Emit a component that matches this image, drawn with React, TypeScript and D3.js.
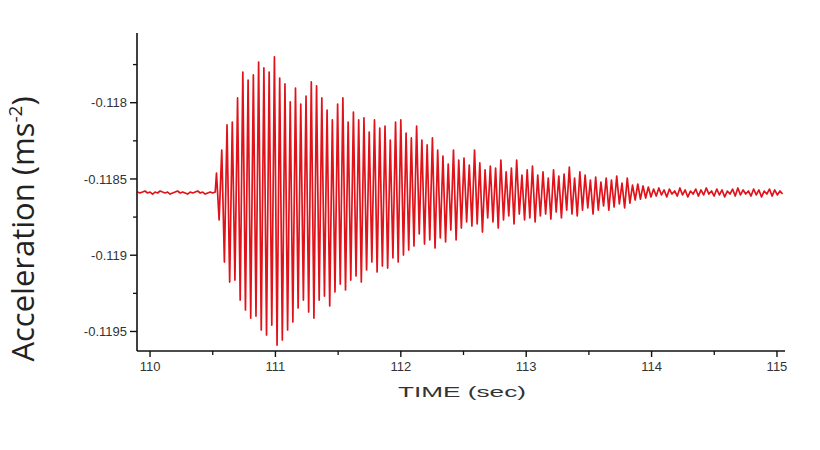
import * as d3 from "d3";

const width = 820;
const height = 450;
const plot = { left: 137, right: 785, top: 33, bottom: 351 };

// axis extents
const timeDomain: [number, number] = [109.896, 115.064];
const accelDomain: [number, number] = [-0.119628, -0.117543];

const xMajorTicks = [110, 111, 112, 113, 114, 115];
const xMinorTicks = [110.5, 111.5, 112.5, 113.5, 114.5];
const yMajorTicks = [-0.118, -0.1185, -0.119, -0.1195];
const yTickLabels = ["-0.118", "-0.1185", "-0.119", "-0.1195"];
const yMinorTicks = [-0.11775, -0.11825, -0.11875, -0.11925];

// quiet record before the event
const quietBefore: [number, number][] = [
  [109.9, -0.118586], [109.92, -0.118592], [109.94, -0.118586], [109.96, -0.118579],
  [109.98, -0.118592], [110.0, -0.118586], [110.02, -0.118599], [110.04, -0.118586],
  [110.06, -0.118592], [110.08, -0.118579], [110.1, -0.118586], [110.12, -0.118592],
  [110.14, -0.118586], [110.16, -0.118599], [110.18, -0.118592], [110.2, -0.118586],
  [110.22, -0.118579], [110.24, -0.118592], [110.26, -0.118586], [110.28, -0.118592],
  [110.3, -0.118599], [110.32, -0.118586], [110.34, -0.118592], [110.36, -0.118586],
  [110.38, -0.118579], [110.4, -0.118592], [110.42, -0.118586], [110.44, -0.118599],
  [110.46, -0.118592], [110.48, -0.118586], [110.5, -0.118592], [110.52, -0.118586],
];

// burst: alternating peak / trough
const burst: [number, number][] = [
  [110.53, -0.118461], [110.551, -0.118769], [110.572, -0.11831], [110.593, -0.119045],
  [110.614, -0.118146], [110.635, -0.119176], [110.656, -0.118127], [110.677, -0.119163],
  [110.698, -0.117969], [110.719, -0.119294], [110.74, -0.117799], [110.761, -0.119359],
  [110.782, -0.117851], [110.803, -0.119412], [110.824, -0.117818], [110.845, -0.119399],
  [110.866, -0.117733], [110.887, -0.11949], [110.908, -0.117772], [110.929, -0.119523],
  [110.95, -0.117799], [110.971, -0.119458], [110.992, -0.1177], [111.013, -0.119589],
  [111.034, -0.117838], [111.055, -0.119556], [111.076, -0.117877], [111.097, -0.11949],
  [111.118, -0.117995], [111.139, -0.119438], [111.16, -0.117904], [111.181, -0.119346],
  [111.202, -0.118009], [111.223, -0.119294], [111.244, -0.117956], [111.265, -0.119372],
  [111.286, -0.117864], [111.307, -0.119412], [111.328, -0.11789], [111.349, -0.119294],
  [111.37, -0.117969], [111.391, -0.119268], [111.412, -0.118048], [111.433, -0.119333],
  [111.454, -0.118113], [111.475, -0.119241], [111.496, -0.118009], [111.517, -0.119189],
  [111.538, -0.117969], [111.559, -0.119228], [111.58, -0.118127], [111.601, -0.119163],
  [111.622, -0.118061], [111.643, -0.119136], [111.664, -0.118113], [111.685, -0.119176],
  [111.706, -0.1181], [111.727, -0.119097], [111.748, -0.118192], [111.769, -0.119045],
  [111.79, -0.118113], [111.811, -0.11911], [111.832, -0.118166], [111.853, -0.119071],
  [111.874, -0.118153], [111.895, -0.119084], [111.916, -0.118245], [111.937, -0.119018],
  [111.958, -0.118127], [111.979, -0.119045], [112.0, -0.118113], [112.021, -0.118999],
  [112.042, -0.118199], [112.063, -0.118966], [112.084, -0.118231], [112.105, -0.11894],
  [112.126, -0.118153], [112.147, -0.118861], [112.168, -0.118245], [112.189, -0.118927],
  [112.21, -0.118277], [112.231, -0.1189], [112.252, -0.118231], [112.273, -0.118953],
  [112.294, -0.11831], [112.315, -0.118887], [112.336, -0.11835], [112.357, -0.118913],
  [112.378, -0.118402], [112.399, -0.118835], [112.42, -0.11831], [112.441, -0.1189],
  [112.462, -0.118376], [112.483, -0.118822], [112.504, -0.118363], [112.525, -0.118782],
  [112.546, -0.118409], [112.567, -0.118809], [112.588, -0.11831], [112.609, -0.118795],
  [112.63, -0.118395], [112.651, -0.118848], [112.672, -0.118441], [112.693, -0.118756],
  [112.714, -0.118415], [112.735, -0.118782], [112.756, -0.118428], [112.777, -0.118822],
  [112.798, -0.118376], [112.819, -0.118769], [112.84, -0.118454], [112.861, -0.118743],
  [112.882, -0.118428], [112.903, -0.118795], [112.924, -0.118376], [112.945, -0.11873],
  [112.966, -0.118474], [112.987, -0.118769], [113.008, -0.118441], [113.029, -0.118756],
  [113.05, -0.118415], [113.071, -0.118782], [113.092, -0.118474], [113.113, -0.118743],
  [113.134, -0.118454], [113.155, -0.11873], [113.176, -0.118494], [113.197, -0.118763],
  [113.218, -0.118441], [113.239, -0.118717], [113.26, -0.118481], [113.281, -0.118756],
  [113.302, -0.118468], [113.323, -0.118704], [113.344, -0.118422], [113.365, -0.11873],
  [113.386, -0.118494], [113.407, -0.118743], [113.428, -0.118454], [113.449, -0.118704],
  [113.47, -0.118474], [113.491, -0.11869], [113.512, -0.118507], [113.533, -0.11873],
  [113.554, -0.118487], [113.575, -0.118704], [113.596, -0.11852], [113.617, -0.118677],
  [113.638, -0.118494], [113.659, -0.118704], [113.68, -0.118507], [113.701, -0.118684],
  [113.722, -0.118481], [113.743, -0.118664], [113.764, -0.118527], [113.785, -0.11869],
  [113.806, -0.118494], [113.827, -0.118658], [113.848, -0.11854], [113.869, -0.118638],
];

// residual noise after the event
const quietAfter: [number, number][] = [
  [113.89, -0.118533], [113.911, -0.118632], [113.932, -0.118546], [113.953, -0.118625],
  [113.974, -0.118553], [113.995, -0.118618], [114.016, -0.118566], [114.037, -0.118612],
  [114.058, -0.118559], [114.079, -0.118605], [114.1, -0.118572], [114.121, -0.118618],
  [114.142, -0.118566], [114.163, -0.118599], [114.184, -0.118579], [114.205, -0.118612],
  [114.226, -0.118559], [114.247, -0.118605], [114.268, -0.118572], [114.289, -0.118618],
  [114.31, -0.118579], [114.331, -0.118599], [114.352, -0.118566], [114.373, -0.118612],
  [114.394, -0.118572], [114.415, -0.118605], [114.436, -0.118559], [114.457, -0.118599],
  [114.478, -0.118579], [114.499, -0.118612], [114.52, -0.118566], [114.541, -0.118605],
  [114.562, -0.118572], [114.583, -0.118618], [114.604, -0.118579], [114.625, -0.118599],
  [114.646, -0.118566], [114.667, -0.118612], [114.688, -0.118559], [114.709, -0.118605],
  [114.73, -0.118572], [114.751, -0.118599], [114.772, -0.118579], [114.793, -0.118612],
  [114.814, -0.118566], [114.835, -0.118605], [114.856, -0.118572], [114.877, -0.118618],
  [114.898, -0.118579], [114.919, -0.118599], [114.94, -0.118566], [114.961, -0.118612],
  [114.982, -0.118572], [115.003, -0.118605], [115.024, -0.118579], [115.045, -0.118599],
];

const tickFont = "'Liberation Sans', Arial, sans-serif";

export default function App() {
  const x = d3.scaleLinear().domain(timeDomain).range([plot.left, plot.right]);
  const y = d3.scaleLinear().domain(accelDomain).range([plot.bottom, plot.top]);

  const series = [...quietBefore, ...burst, ...quietAfter];
  const path = d3
    .line<[number, number]>()
    .x((d) => x(d[0]))
    .y((d) => y(d[1]))(series);

  return (
    <svg
      width={width}
      height={height}
      viewBox={`0 0 ${width} ${height}`}
      style={{ position: "absolute", left: 0, top: 0, background: "#fff" }}
    >
      <defs>
        <clipPath id="plot-clip">
          <rect x={plot.left} y={plot.top} width={plot.right - plot.left} height={plot.bottom - plot.top} />
        </clipPath>
      </defs>

      <path d={path ?? ""} fill="none" stroke="#e0121a" strokeWidth={1.7} strokeLinejoin="round" clipPath="url(#plot-clip)" />

      {/* y axis */}
      <line x1={plot.left} x2={plot.left} y1={plot.top} y2={plot.bottom} stroke="#111" strokeWidth={1.6} />
      {yMajorTicks.map((tick, i) => (
        <g key={`ym-${tick}`} transform={`translate(${plot.left}, ${y(tick)})`}>
          <line x1={-7} x2={0} stroke="#111" strokeWidth={1.4} />
          <text x={-10} dy="0.36em" textAnchor="end" fontFamily={tickFont} fontSize={13} fill="#333">
            {yTickLabels[i]}
          </text>
        </g>
      ))}
      {yMinorTicks.map((tick) => (
        <line key={`yn-${tick}`} x1={plot.left - 4} x2={plot.left} y1={y(tick)} y2={y(tick)} stroke="#111" strokeWidth={1.3} />
      ))}

      {/* x axis */}
      <line x1={plot.left} x2={plot.right} y1={plot.bottom} y2={plot.bottom} stroke="#111" strokeWidth={1.6} />
      {xMajorTicks.map((tick) => (
        <g key={`xm-${tick}`} transform={`translate(${x(tick)}, ${plot.bottom})`}>
          <line y1={0} y2={6} stroke="#111" strokeWidth={1.4} />
          <text y={20} textAnchor="middle" fontFamily={tickFont} fontSize={13} fill="#333">
            {tick}
          </text>
        </g>
      ))}
      {xMinorTicks.map((tick) => (
        <line key={`xn-${tick}`} x1={x(tick)} x2={x(tick)} y1={plot.bottom} y2={plot.bottom + 4} stroke="#111" strokeWidth={1.3} />
      ))}

      <text
        x={462}
        y={397}
        textAnchor="middle"
        fontFamily={tickFont}
        fontSize={15}
        fill="#333"
        textLength={128}
        lengthAdjust="spacingAndGlyphs"
      >
        TIME (sec)
      </text>

      <text
        transform={`translate(34, 229) rotate(-90)`}
        textAnchor="middle"
        fontFamily="'Open Sans', 'Noto Sans', sans-serif"
        fontSize={31}
        fill="#222"
      >
        Acceleration (ms
        <tspan fontSize={19} dy={-12}>-2</tspan>
        <tspan dy={12}>)</tspan>
      </text>
    </svg>
  );
}
